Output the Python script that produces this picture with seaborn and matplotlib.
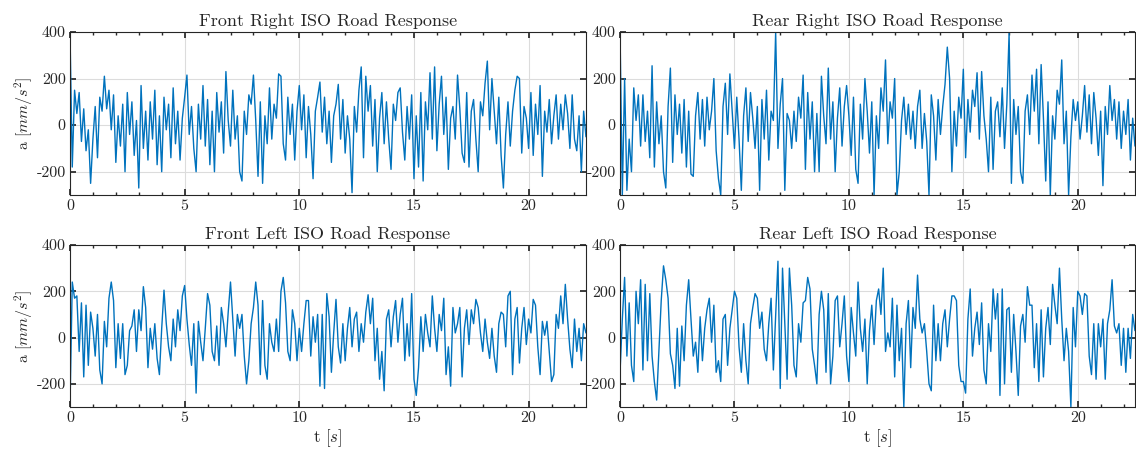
import numpy as np
import pandas as pd
import matplotlib
matplotlib.use("Agg")
import matplotlib.pyplot as plt
from matplotlib.ticker import MultipleLocator, FixedLocator, FixedFormatter
import seaborn as sns

# Sample times (0.1 s step over 22.5 s)
time_s = np.round(np.arange(0, 22.55, 0.1), 1)

front_right = [
    400, -180, 150, 50, 140, -70, 70, -110, -20, -250,
    -60, 80, -140, 120, 60, 210, 70, 150, -20, 130,
    -160, 40, -90, 90, -200, 140, -40, 100, -130, 20,
    -270, 170, -100, 60, -150, 100, -60, 150, -170, 40,
    -200, 120, -20, 90, -140, 160, -80, 60, -150, 30,
    120, 215, -40, 80, -100, -200, 90, -60, 170, -90,
    110, -170, 60, -200, 140, -30, 100, -120, 230, 20,
    -90, 150, -60, 40, -200, -240, 60, -40, 130, 90,
    215, 20, -220, 100, -250, 40, -80, 160, -60, 90,
    30, 220, 210, -80, -150, 120, -40, 90, -150, 60,
    170, -20, 130, -140, 80, -40, -230, 60, 120, 185,
    -30, 120, -80, 60, -160, 40, 90, 175, -60, 110,
    -120, 40, -60, -290, 80, -30, 150, 250, -140, 210,
    60, 170, -90, 110, -200, 30, 140, -80, 100, -60,
    -190, 90, 20, 140, 160, -30, -150, 80, -60, 130,
    -230, 40, -180, 140, -240, 100, -20, 225, -60, 250,
    -110, 90, 210, -40, 120, -190, 30, 80, -60, 215,
    70, -120, -160, 140, -180, 60, 110, -60, -200, 100,
    40, 180, 275, -20, 200, 60, -80, 120, -130, -270,
    -40, 100, -90, 60, 150, 210, 200, -120, 80, 30,
    -100, 140, -130, 90, -40, 170, -220, 60, -30, 110,
    -80, 40, 130, -60, 90, -20, 130, 50, -100, 130,
    -60, -110, 40, -200, 60, -50,
]

rear_right = [
    400, -300, 200, -280, -60, -200, 160, 20, 130, -90,
    130, -70, 60, -140, 255, -180, 100, -80, 40, -200,
    -270, 80, 245, -160, 130, -40, 90, -120, 110, -180,
    60, -210, -220, 40, 140, -60, 110, -90, 120, -20,
    60, 200, -110, -230, -300, 80, 180, -40, 220, 60,
    -100, 120, -60, -280, 40, 160, -70, 140, 30, -100,
    80, -280, 110, -60, 150, -150, 60, 20, 400, -100,
    90, 200, -280, 50, 20, -100, 60, -70, 120, 30,
    215, -190, 140, -60, 100, -200, 50, -200, 210, 40,
    -80, 245, -60, 100, -200, 30, 160, -90, 80, 170,
    40, -130, 120, -190, -250, 90, -60, 200, 60, -120,
    100, -300, 40, -100, 160, 60, 280, -80, 100, 30,
    200, -300, -200, 20, 120, -40, 90, -60, 60, -100,
    80, 150, -100, 50, -70, -300, 130, 40, -150, 110,
    -40, 80, 175, 335, 200, -200, 60, -90, 120, 30,
    240, -140, 110, -30, 150, 80, 225, -60, 230, 40,
    -60, -200, 120, -190, 60, 100, -50, 160, -100, 90,
    395, -250, 110, -40, 80, -200, -250, 60, 130, -40,
    215, 60, 240, -80, 260, 30, -240, 100, -300, 40,
    -60, 150, 90, 280, -80, 60, -300, -50, 110, 20,
    100, -60, 40, 170, -30, 130, -80, 140, 30, -130,
    60, -260, 80, -40, 170, 20, 110, -60, 100, -100,
    60, -40, 110, -150, 30, -90,
]

front_left = [
    -300, 240, 170, 180, -60, 150, -170, 140, -120, 110,
    40, -80, 100, -140, -200, 70, -40, 170, 240, 160,
    -130, 60, -90, 60, -160, -120, 30, 50, 120, -60,
    120, 30, 220, 130, -130, 40, -50, 60, -90, -160,
    40, 205, 60, -40, -100, 80, -40, 120, 30, 180,
    225, 80, -30, -120, 60, -240, 70, -20, -100, 40,
    190, 140, -60, -100, 50, -120, 130, 60, -40, 110,
    240, 80, -80, 100, 40, 100, -80, -200, -100, 60,
    130, 240, 140, -160, 160, -120, -180, 60, -20, -60,
    80, -60, 200, 260, 150, -60, -100, 120, 60, -100,
    40, -60, 60, 160, 160, -80, 90, -20, 100, -210,
    100, -220, 190, 90, -150, 20, 165, -40, -110, 60,
    -100, 40, 130, -40, 80, 110, -60, 60, -20, 110,
    185, 60, 170, -100, 40, -180, -60, -230, 80, 120,
    -40, 90, 160, -20, 100, 170, -100, 60, -80, 190,
    -180, -250, -130, 90, -60, 100, 20, -40, 180, 40,
    -60, 100, 30, 170, -160, -40, -210, 130, 20, 60,
    130, -170, 40, 120, -30, 120, 60, 165, 130, 20,
    -60, 80, -20, -90, 40, -80, -150, 60, 110, 100,
    -40, 180, 200, -160, 80, 130, -110, 40, 130, -30,
    80, 20, 165, 140, -40, -160, 70, 10, 70, -60,
    -190, -160, 100, 40, 180, 60, 230, 80, -50, -130,
    80, -60, 40, -100, 60, 20,
]

rear_left = [
    -150, 80, 260, -80, 150, -120, -190, 200, 60, 250,
    -140, 230, -100, 190, -80, -190, -270, -60, 160, 310,
    250, 170, -70, -120, -220, 40, -210, 50, -100, 140,
    250, 80, -80, -20, -150, 90, -100, 40, 120, 170,
    -20, 140, -150, -100, -190, 80, 100, -120, 40, 120,
    200, 170, -40, -150, 60, -100, -200, 60, 130, 190,
    170, 40, 110, -50, -100, 60, 170, -140, 90, 330,
    -220, 300, 60, -180, 300, 140, -120, -170, 60, -20,
    150, 160, 260, 210, -50, -120, -200, 100, 200, 120,
    -150, 190, -200, -80, 160, 180, -40, 60, 180, -80,
    -190, 130, 20, -80, 240, 40, -60, 80, -200, 30,
    140, -30, 160, 210, 100, 300, -60, 20, -40, 170,
    -170, 140, -100, 40, -300, 60, 160, -130, 130, 40,
    270, 80, 20, 60, -60, -200, -230, 140, -100, 60,
    -100, 60, 120, -40, 80, 180, 180, 160, -120, -190,
    -190, -240, 80, 210, -80, 40, 110, -30, 150, -140,
    -200, 60, -60, 210, 80, 190, -250, 210, -200, 120,
    130, -150, 100, -60, -250, 50, 100, -20, 220, 140,
    140, -130, 60, -190, 120, -170, 40, 130, -30, 230,
    140, 60, 300, 80, -100, 40, -60, -300, 130, -40,
    200, 180, 100, 190, 180, -80, -160, 60, -180, 60,
    -40, 80, -180, 60, 120, 250, 50, 20, 60, -120,
    40, -150, 40, -90, 100, 30,
]

panel_titles = [
    "Front Right ISO Road Response",
    "Rear Right ISO Road Response",
    "Front Left ISO Road Response",
    "Rear Left ISO Road Response",
]
panel_series = [front_right, rear_right, front_left, rear_left]

x_ticks = [0, 5, 10, 15, 20]
x_tick_labels = ["0", "5", "10", "15", "20"]
y_ticks = [-200, 0, 200, 400]
y_tick_labels = ["-200", "0", "200", "400"]

sns.set_theme(style="ticks")
plt.rcParams.update({
    "font.family": "cmr10",
    "mathtext.fontset": "cm",
    "axes.unicode_minus": False,
    "axes.edgecolor": "#262626",
    "axes.linewidth": 0.8,
    "xtick.color": "#262626",
    "ytick.color": "#262626",
    "xtick.direction": "in",
    "ytick.direction": "in",
    "xtick.top": True,
    "ytick.right": True,
    "xtick.major.size": 4,
    "ytick.major.size": 4,
    "xtick.minor.size": 2.5,
    "xtick.labelsize": 11.5,
    "ytick.labelsize": 11.5,
})

fig = plt.figure(figsize=(11.36, 4.59), dpi=100)
positions = [
    [0.0616, 0.5752, 0.4542, 0.3551],
    [0.5458, 0.5752, 0.4533, 0.3551],
    [0.0616, 0.1133, 0.4542, 0.3529],
    [0.5458, 0.1133, 0.4533, 0.3529],
]

for i, (pos, title, series) in enumerate(zip(positions, panel_titles, panel_series)):
    ax = fig.add_axes(pos)
    df = pd.DataFrame({"t": time_s, "a": series})
    sns.lineplot(data=df, x="t", y="a", ax=ax, color="#0072BD", linewidth=1.0)
    ax.set_xlim(0, 22.5)
    ax.set_ylim(-300, 400)
    ax.xaxis.set_major_locator(FixedLocator(x_ticks))
    ax.xaxis.set_major_formatter(FixedFormatter(x_tick_labels))
    ax.yaxis.set_major_locator(FixedLocator(y_ticks))
    ax.yaxis.set_major_formatter(FixedFormatter(y_tick_labels))
    ax.xaxis.set_minor_locator(MultipleLocator(1))
    ax.grid(True, which="major", color="#dcdcdc", linewidth=0.8)
    ax.set_axisbelow(True)
    ax.set_title(title, fontsize=13, pad=4)
    if i % 2 == 0:
        ax.set_ylabel(r"a $[mm/s^2]$", fontsize=11.5, labelpad=1)
    else:
        ax.set_ylabel("")
    if i >= 2:
        ax.set_xlabel(r"t $[s]$", fontsize=12, labelpad=2)
    else:
        ax.set_xlabel("")
    ax.tick_params(axis="both", which="major", pad=3)

fig.savefig("out.png", dpi=100, facecolor="white")
